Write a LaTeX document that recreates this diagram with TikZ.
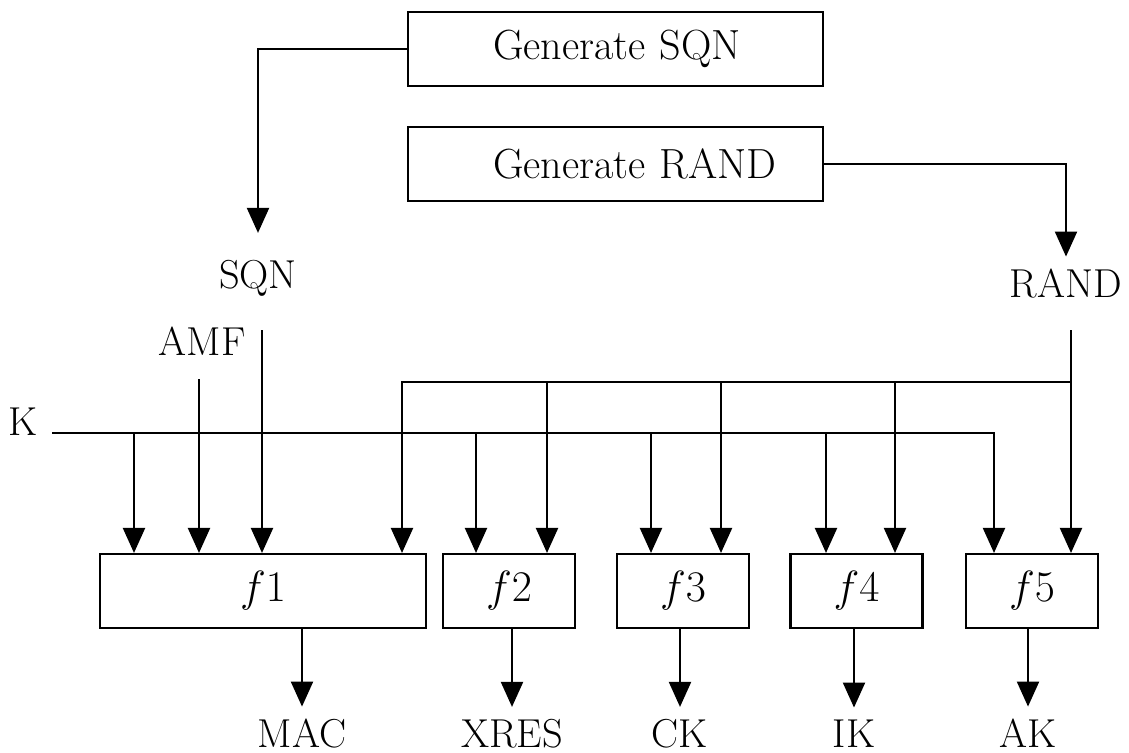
\documentclass[tikz,border=0pt]{standalone}
\usetikzlibrary{arrows.meta}
\begin{document}
\begin{tikzpicture}[x=0.02cm,y=-0.02cm,
  every node/.style={font=\fontsize{23}{27}\selectfont},
  genbox/.style={draw,line width=1.2pt,minimum height=1.48cm,inner sep=0pt,text width=8.3cm,align=left,font=\fontsize{24}{28}\selectfont},
  fbox/.style={draw,line width=1.2pt,minimum height=1.48cm,inner sep=0pt},
  lbl/.style={anchor=base,inner sep=0.23cm},
  ln/.style={line width=1.2pt},
  arr/.style={line width=1.2pt,-{Triangle[length=5mm,width=4.4mm]}}]
\useasboundingbox (0,0) rectangle (1129,753);
\node[genbox] (gsqn) at (615.5,49) {\hspace*{1.7cm}Generate SQN};
\node[genbox] (grand) at (615.5,164) {\hspace*{1.7cm}Generate RAND};
\node[fbox,minimum width=6.52cm] (f1) at (263,591) {$f1$};
\node[fbox,minimum width=2.64cm] (f2) at (509,591) {$f2$};
\node[fbox,minimum width=2.64cm] (f3) at (683,591) {$f3$};
\node[fbox,minimum width=2.64cm] (f4) at (856.5,591) {$f4$};
\node[fbox,minimum width=2.64cm] (f5) at (1032,591) {$f5$};
\node[lbl] (sqn) at (258,288) {SQN};
\node[lbl] (rand) at (1066,297) {RAND};
\node[lbl] (amf) at (202,355) {AMF};
\node[lbl] (k) at (23,435) {K};
\node[lbl] (mac) at (302,747) {MAC};
\node[lbl] (xres) at (512,747) {XRES};
\node[lbl] (ck) at (680,747) {CK};
\node[lbl] (ik) at (854,747) {IK};
\node[lbl] (ak) at (1028,747) {AK};
\coordinate (kin) at (52,433);
\coordinate (amfin) at (199,379);
\coordinate (sqnin) at (262,330);
\coordinate (randin) at (1071,330);
\coordinate (rbus) at (1071,382);
\draw[arr,shorten >=0.3cm] (gsqn.west) -| (sqn);
\draw[arr] (grand.east) -| (rand);
\draw[arr] (amfin) -- (amfin |- f1.north);
\draw[arr] (sqnin) -- (sqnin |- f1.north);
\draw[arr] (kin) -| (994,433 |- f5.north);
\foreach \x/\f in {134/f1,476/f2,651/f3,826/f4}
  \draw[arr] (\x,433) -- (\x,433 |- \f.north);
\draw[arr] (randin) -- (randin |- f5.north);
\draw[arr] (rbus) -| (402,382 |- f1.north);
\foreach \x/\f in {547/f2,721/f3,895/f4}
  \draw[arr] (\x,382) -- (\x,382 |- \f.north);
\foreach \f/\o in {f1/mac,f2/xres,f3/ck,f4/ik,f5/ak}
  \draw[arr] (\f.south -| \o) -- (\o);
\end{tikzpicture}
\end{document}
